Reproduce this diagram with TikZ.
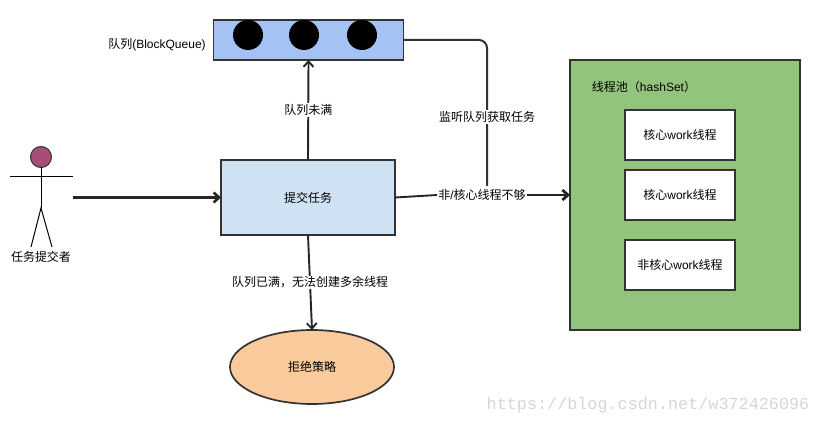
\documentclass[tikz,border=0pt]{standalone}
\usepackage{fontspec}
\setmainfont{Liberation Sans}
\setmonofont{Liberation Mono}
\newfontfamily\cjk{Noto Sans CJK SC}
\usepackage{xcolor}
\usetikzlibrary{arrows.meta,positioning,shapes.geometric}
\definecolor{queueblue}{HTML}{A4C2F4}
\definecolor{taskblue}{HTML}{CFE2F3}
\definecolor{poolgreen}{HTML}{93C47D}
\definecolor{rejectorange}{HTML}{F9CB9C}
\definecolor{headpurple}{HTML}{A64D79}
\definecolor{edgegrey}{HTML}{333333}
\tikzset{
	block/.style={draw=edgegrey, line width=1.7pt, outer sep=0pt, inner sep=0pt, align=center, font=\fontsize{12}{14}\selectfont},
	worker/.style={block, fill=white, minimum width=110pt, minimum height=50pt},
	tag/.style={inner sep=1pt, fill=white, font=\fontsize{12}{14}\selectfont},
	plain-tag/.style={inner sep=0pt, font=\fontsize{12}{14}\selectfont},
	queue-dot/.style={circle, fill=black, minimum size=30pt, inner sep=0pt},
	link/.style={line width=1.9pt, draw=black!85, >={Straight Barb[length=5.5pt,width=10pt]}}
}
\begin{document}
\begin{tikzpicture}[x=1pt,y=-1pt]
	\useasboundingbox (0,0) rectangle (820,425);

	\node[block, fill=queueblue, minimum width=190pt, minimum height=40pt] (queue) at (308.5,40) {};
	\foreach \px [count=\n] in {248,304,362}
		\node[queue-dot] (queue-dot-\n) at (\px,35) {};
	\node[plain-tag] (queue-name) at (157,45) {{\cjk 队列}(BlockQueue)};

	\node[block, fill=taskblue, minimum width=174pt, minimum height=75pt] (submit) at (308,197.5) {\cjk 提交任务};
	\node[block, ellipse, fill=rejectorange, minimum width=164pt, minimum height=74pt] (reject) at (312,367) {\cjk 拒绝策略};

	\node[block, fill=poolgreen, minimum width=230pt, minimum height=270pt] (pool) at (685,195) {};
	\node[plain-tag] (pool-name) at (644,87) {{\cjk 线程池（}hashSet{\cjk ）}};
	\node[worker] (worker-1) at (680,135) {{\cjk 核心}work{\cjk 线程}};
	\node[worker, below=10pt of worker-1] (worker-2) {{\cjk 核心}work{\cjk 线程}};
	\node[worker, below=20pt of worker-2] (worker-3) {{\cjk 非核心}work{\cjk 线程}};

	% actor
	\node[circle, draw=edgegrey, fill=headpurple, line width=1pt, minimum size=21pt, inner sep=0pt, outer sep=0pt] (actor-head) at (41,157) {};
	\coordinate (actor-hip) at (41,208);
	\draw[line width=1pt] (actor-head.south) -- (actor-hip);
	\draw[line width=1pt] (10,177) -- (73,177);
	\draw[line width=1pt] (31,247) -- (actor-hip) -- (52,247);
	\node[plain-tag] (actor-name) at (41,257) {\cjk 任务提交者};

	\coordinate (actor-out) at (73,197.5);
	\draw[link,->, line width=2.6pt] (actor-out) -- (submit.west);
	\draw[link,->] (submit.north) -- node[tag, pos=.5] (not-full) {\cjk 队列未满} (queue.south);
	\draw[link,->] (submit.south) -- node[tag, pos=.5] (full) {\cjk 队列已满，无法创建多余线程} (reject.north);

	\coordinate (listen-turn) at (487,40);
	\coordinate (listen-end) at (487,186);
	\draw[link, line width=2pt, draw=edgegrey, rounded corners=8pt] (queue.east) -- (listen-turn) -- (listen-end);
	\node[tag] (listen) at (487,117) {\cjk 监听队列获取任务};

	\node[tag] (not-enough) at (482,195) {{\cjk 非}/{\cjk 核心线程不够}};
	\draw[link] (submit.east) -- (not-enough.west);
	\draw[link,->, line width=2.8pt] (not-enough.east) -- (pool.west);

	\node[inner sep=0pt, text=black!16, font=\ttfamily\fontsize{16.8}{18}\selectfont] (watermark) at (648,405) {https://blog.csdn.net/w372426096};
\end{tikzpicture}
\end{document}
